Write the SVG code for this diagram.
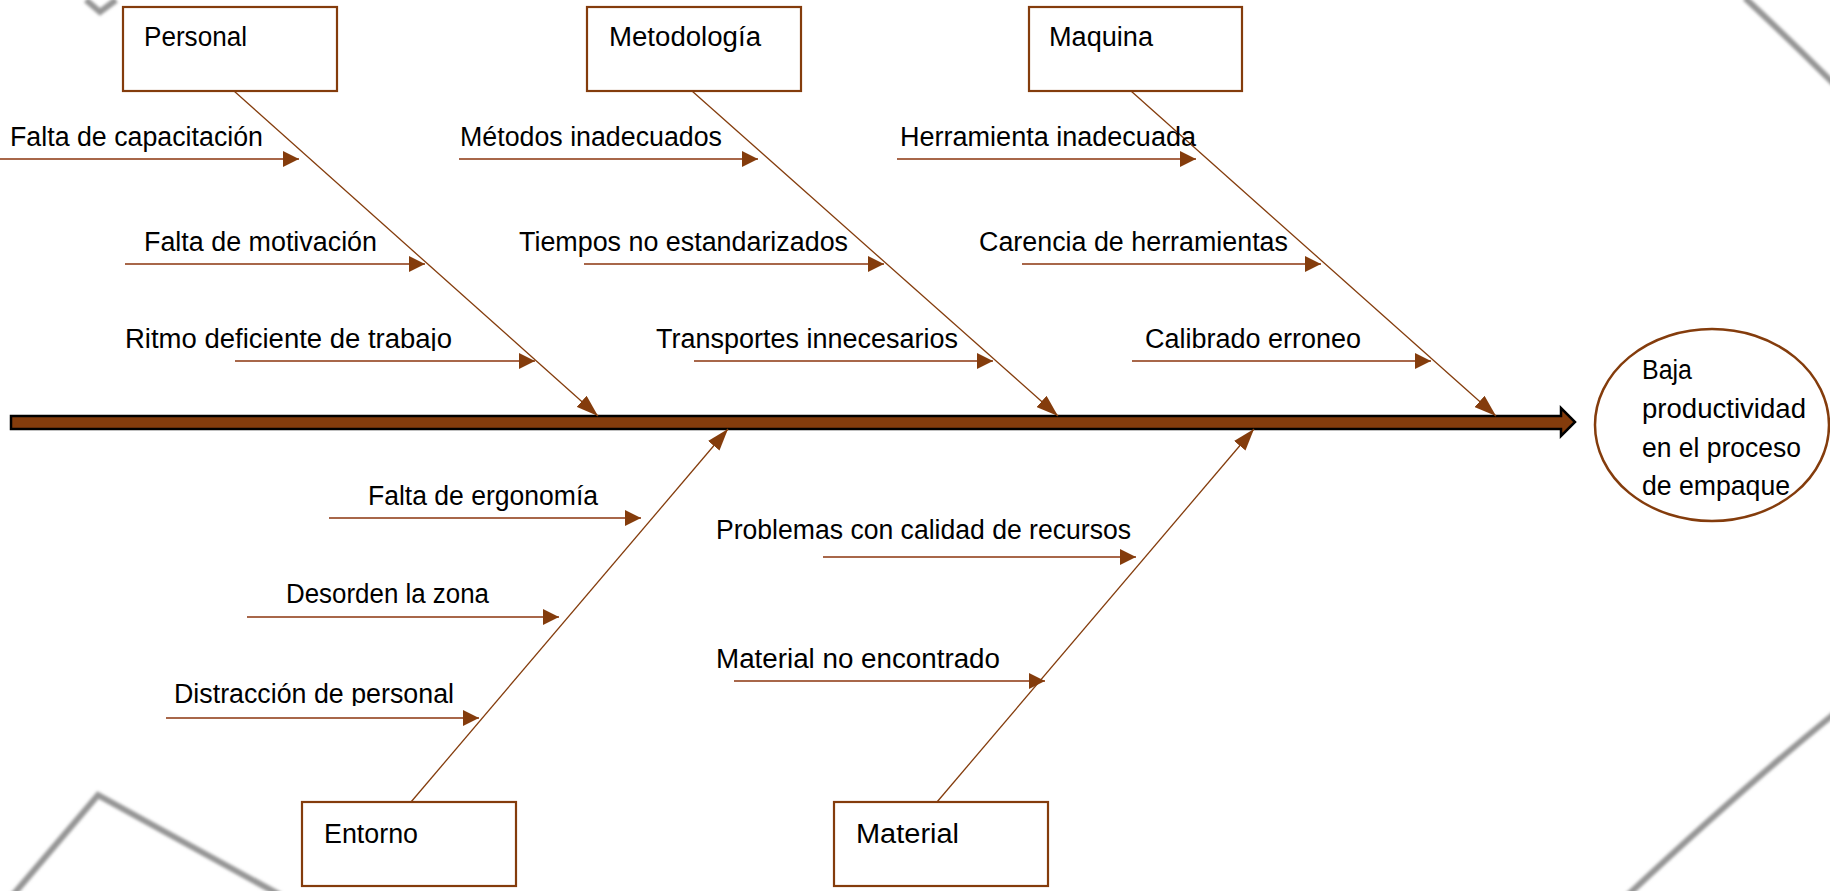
<svg xmlns="http://www.w3.org/2000/svg" width="1830" height="891" viewBox="0 0 1830 891">
<style>
  text { font-family: "Liberation Sans", Arial, sans-serif; font-size: 27px; fill: #000; }
  .box { fill: #fff; stroke: #843C0C; stroke-width: 2.2; }
  .sub { stroke: #A8674A; stroke-width: 2; fill: none; }
  .bone { stroke: #843C0C; stroke-width: 1.3; fill: none; }
  .deco { stroke: #959595; stroke-width: 6; fill: none; stroke-linejoin: miter; }
</style>
<defs>
  <marker id="ah" markerUnits="userSpaceOnUse" markerWidth="16" markerHeight="16" refX="16" refY="8" orient="auto">
    <path d="M0,0 L16,8 L0,16 z" fill="#843C0C"/>
  </marker>
  <marker id="ahb" markerUnits="userSpaceOnUse" markerWidth="22" markerHeight="15" refX="22" refY="7.5" orient="auto">
    <path d="M0,0 L22,7.5 L0,15 z" fill="#843C0C"/>
  </marker>
  <filter id="blur" x="-5%" y="-5%" width="110%" height="110%">
    <feGaussianBlur stdDeviation="1.5"/>
  </filter>
  <clipPath id="clipRitmo"><rect x="0" y="300" width="700" height="51"/></clipPath>
  <clipPath id="clipDist"><rect x="0" y="660" width="700" height="46"/></clipPath>
</defs>
<rect width="1830" height="891" fill="#fff"/>

<g id="decoration" filter="url(#blur)">
  <path class="deco" d="M86,0 L100,12 L116,0"/>
  <path class="deco" d="M13,895 L98,795 L280,895"/>
  <path class="deco" d="M1745,-2 Q1790,40 1834,84"/>
  <path class="deco" d="M1834,714 Q1740,790 1628,895"/>
</g>

<g id="spine">
  <polygon points="11,416 1561,416 1561,408 1575,422 1561,436 1561,429 11,429" fill="#843C0C" stroke="#000" stroke-width="2.5" stroke-linejoin="miter"/>
</g>

<g id="connectors">
  <line class="bone" x1="234" y1="91" x2="598" y2="416" marker-end="url(#ahb)"/>
  <line class="bone" x1="692" y1="91" x2="1058" y2="416" marker-end="url(#ahb)"/>
  <line class="bone" x1="1131" y1="91" x2="1496" y2="416" marker-end="url(#ahb)"/>
  <line class="bone" x1="411" y1="802" x2="728" y2="429" marker-end="url(#ahb)"/>
  <line class="bone" x1="937" y1="802" x2="1254" y2="429" marker-end="url(#ahb)"/>

  <line class="sub" x1="0" y1="159" x2="299" y2="159" marker-end="url(#ah)"/>
  <line class="sub" x1="125" y1="264" x2="425" y2="264" marker-end="url(#ah)"/>
  <line class="sub" x1="235" y1="361" x2="535" y2="361" marker-end="url(#ah)"/>

  <line class="sub" x1="459" y1="159" x2="758" y2="159" marker-end="url(#ah)"/>
  <line class="sub" x1="584" y1="264" x2="884" y2="264" marker-end="url(#ah)"/>
  <line class="sub" x1="694" y1="361" x2="993" y2="361" marker-end="url(#ah)"/>

  <line class="sub" x1="897" y1="159" x2="1196" y2="159" marker-end="url(#ah)"/>
  <line class="sub" x1="1022" y1="264" x2="1321" y2="264" marker-end="url(#ah)"/>
  <line class="sub" x1="1132" y1="361" x2="1431" y2="361" marker-end="url(#ah)"/>

  <line class="sub" x1="329" y1="518" x2="641" y2="518" marker-end="url(#ah)"/>
  <line class="sub" x1="247" y1="617" x2="559" y2="617" marker-end="url(#ah)"/>
  <line class="sub" x1="166" y1="718" x2="479" y2="718" marker-end="url(#ah)"/>

  <line class="sub" x1="823" y1="557" x2="1136" y2="557" marker-end="url(#ah)"/>
  <line class="sub" x1="734" y1="681" x2="1045" y2="681" marker-end="url(#ah)"/>
</g>

<g id="personal">
  <rect class="box" x="123" y="7" width="214" height="84"/>
  <text x="144" y="46" textLength="103" lengthAdjust="spacingAndGlyphs">Personal</text>
</g>
<g id="metodologia">
  <rect class="box" x="587" y="7" width="214" height="84"/>
  <text x="609" y="46" textLength="152" lengthAdjust="spacingAndGlyphs">Metodología</text>
</g>
<g id="maquina">
  <rect class="box" x="1029" y="7" width="213" height="84"/>
  <text x="1049" y="46" textLength="104" lengthAdjust="spacingAndGlyphs">Maquina</text>
</g>
<g id="entorno">
  <rect class="box" x="302" y="802" width="214" height="84"/>
  <text x="324" y="843" textLength="94" lengthAdjust="spacingAndGlyphs">Entorno</text>
</g>
<g id="material">
  <rect class="box" x="834" y="802" width="214" height="84"/>
  <text x="856" y="843" textLength="103" lengthAdjust="spacingAndGlyphs">Material</text>
</g>

<g id="efecto">
  <ellipse cx="1712" cy="425" rx="117" ry="96" fill="#fff" stroke="#843C0C" stroke-width="2.5"/>
  <text x="1642" y="379" textLength="50" lengthAdjust="spacingAndGlyphs">Baja</text>
  <text x="1642" y="418" textLength="164" lengthAdjust="spacingAndGlyphs">productividad</text>
  <text x="1642" y="457" textLength="159" lengthAdjust="spacingAndGlyphs">en el proceso</text>
  <text x="1642" y="495" textLength="148" lengthAdjust="spacingAndGlyphs">de empaque</text>
</g>

<g id="causa-capacitacion"><text x="10" y="146" textLength="253" lengthAdjust="spacingAndGlyphs">Falta de capacitación</text></g>
<g id="causa-motivacion"><text x="144" y="251" textLength="233" lengthAdjust="spacingAndGlyphs">Falta de motivación</text></g>
<g id="causa-ritmo"><text x="125" y="348" textLength="327" lengthAdjust="spacingAndGlyphs" clip-path="url(#clipRitmo)">Ritmo deficiente de trabajo</text></g>

<g id="causa-metodos"><text x="460" y="146" textLength="262" lengthAdjust="spacingAndGlyphs">Métodos inadecuados</text></g>
<g id="causa-tiempos"><text x="519" y="251" textLength="329" lengthAdjust="spacingAndGlyphs">Tiempos no estandarizados</text></g>
<g id="causa-transportes"><text x="656" y="348" textLength="302" lengthAdjust="spacingAndGlyphs">Transportes innecesarios</text></g>

<g id="causa-herramienta"><text x="900" y="146" textLength="296" lengthAdjust="spacingAndGlyphs">Herramienta inadecuada</text></g>
<g id="causa-carencia"><text x="979" y="251" textLength="309" lengthAdjust="spacingAndGlyphs">Carencia de herramientas</text></g>
<g id="causa-calibrado"><text x="1145" y="348" textLength="216" lengthAdjust="spacingAndGlyphs">Calibrado erroneo</text></g>

<g id="causa-ergonomia"><text x="368" y="505" textLength="230" lengthAdjust="spacingAndGlyphs">Falta de ergonomía</text></g>
<g id="causa-desorden"><text x="286" y="603" textLength="203" lengthAdjust="spacingAndGlyphs">Desorden la zona</text></g>
<g id="causa-distraccion"><text x="174" y="703" textLength="280" lengthAdjust="spacingAndGlyphs" clip-path="url(#clipDist)">Distracción de personal</text></g>

<g id="causa-calidad"><text x="716" y="539" textLength="415" lengthAdjust="spacingAndGlyphs">Problemas con calidad de recursos</text></g>
<g id="causa-encontrado"><text x="716" y="668" textLength="284" lengthAdjust="spacingAndGlyphs">Material no encontrado</text></g>
</svg>
